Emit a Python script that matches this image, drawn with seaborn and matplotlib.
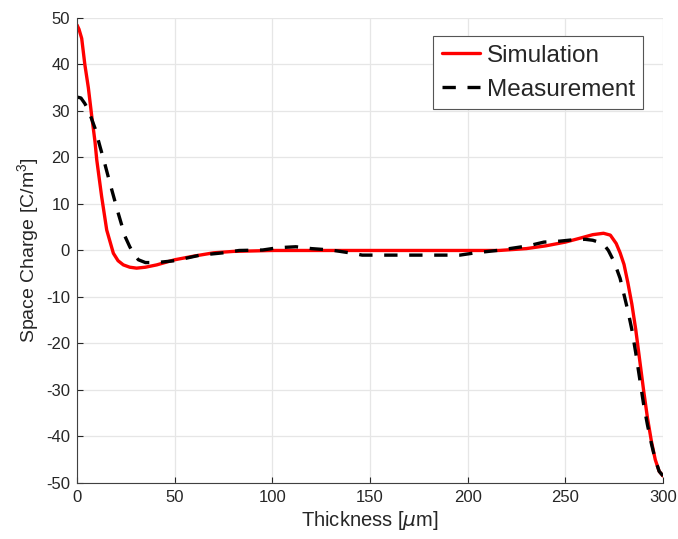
import numpy as np
import pandas as pd
import matplotlib
matplotlib.use("Agg")
import matplotlib.pyplot as plt
import seaborn as sns

# values
sim_x = [0, 1, 2.4, 4, 5.8, 7.5, 9.2, 10.1, 12.6, 15.2, 18.6, 21, 23.7, 27, 30.5, 35, 40.8,
         50, 60, 70, 80, 100, 150, 200, 216, 230, 240, 250, 258, 264, 269.5, 273, 276, 278,
         280, 282, 284, 286, 288, 290, 292, 294, 296, 298, 300]
sim_y = [48.5, 47.6, 45.6, 40, 35, 29, 23.4, 19.5, 11.6, 4.4, -0.6, -2.2, -3.1, -3.6, -3.8,
         -3.6, -3.1, -2, -1.2, -0.5, -0.2, 0, 0, 0, 0, 0.4, 1, 1.8, 2.7, 3.4, 3.7, 3.3, 1.5,
         -0.5, -3, -7, -11.5, -17, -23.5, -30, -36, -41, -45, -47.5, -48.5]

meas_x = [0, 2, 4, 6, 9.2, 11.8, 14, 16.9, 21.1, 24.6, 27, 29, 31.4, 35, 40.8, 50, 63,
          75, 83, 95, 103, 112, 120, 130, 141, 146, 150, 175, 196, 204, 215, 223, 231,
          239, 247, 254, 260, 264, 267, 270, 272, 275, 278, 280, 282, 284, 286, 288, 290,
          292, 294, 296, 298, 300]
meas_y = [33, 32.8, 31.6, 30, 26.3, 22.3, 19, 14.4, 8, 3, 0.8, -0.7, -2, -2.6, -2.6, -2.2,
          -1, -0.5, 0, 0.1, 0.6, 0.8, 0.4, 0.1, -0.6, -1, -1, -1, -1, -0.5, 0, 0.5, 1, 1.8,
          2, 2.3, 2.4, 2.2, 1.8, 1.1, 0, -2.5, -6, -9.5, -13, -17, -22, -27.5, -33, -37.5,
          -41.5, -45, -47.5, -48.5]

x_ticks = [0, 50, 100, 150, 200, 250, 300]
y_ticks = [-50, -40, -30, -20, -10, 0, 10, 20, 30, 40, 50]

sns.set_style("white")
plt.rcParams['font.family'] = ['Liberation Sans', 'DejaVu Sans']
plt.rcParams['axes.unicode_minus'] = False
plt.rcParams['mathtext.fontset'] = 'custom'
plt.rcParams['mathtext.it'] = 'DejaVu Sans:italic'
plt.rcParams['mathtext.rm'] = 'Liberation Sans'

df_sim = pd.DataFrame({'x': sim_x, 'y': sim_y})
df_meas = pd.DataFrame({'x': meas_x, 'y': meas_y})

fig = plt.figure(figsize=(6.78, 5.39), dpi=100)
ax = fig.add_axes([0.1136, 0.104, 0.8644, 0.8626])

sns.lineplot(data=df_sim, x='x', y='y', ax=ax, color='#ff0000', linewidth=2.4,
             label='Simulation', sort=False)
sns.lineplot(data=df_meas, x='x', y='y', ax=ax, color='black', linewidth=2.4,
             label='Measurement', sort=False, linestyle=(0, (4, 3.5)))

ax.set_xlim(0, 300)
ax.set_ylim(-50, 50)
ax.set_xticks(x_ticks)
ax.set_yticks(y_ticks)
ax.grid(True, color='#e6e6e6', linewidth=0.9)
ax.set_axisbelow(True)
for s in ['top', 'right']:
    ax.spines[s].set_visible(False)
for s in ['left', 'bottom']:
    ax.spines[s].set_color('#404040')
    ax.spines[s].set_linewidth(0.8)
ax.tick_params(bottom=True, left=True, direction='in', labelsize=12, colors='#262626',
               length=4, width=0.8, pad=5)
ax.set_xlabel('Thickness [$\\mu$m]', fontsize=14.5, color='#262626', labelpad=3)
ax.set_ylabel('Space Charge [C/m$^3$]', fontsize=14, color='#262626', labelpad=3)

leg = ax.legend(loc='upper right', bbox_to_anchor=(0.966, 0.961), fontsize=17.5,
                fancybox=False, framealpha=1, edgecolor='#555555',
                handlelength=1.6, handletextpad=0.25, borderpad=0.35, labelspacing=0.5,
                borderaxespad=0)
leg.get_frame().set_linewidth(0.8)

fig.savefig('out.png', dpi=100)
